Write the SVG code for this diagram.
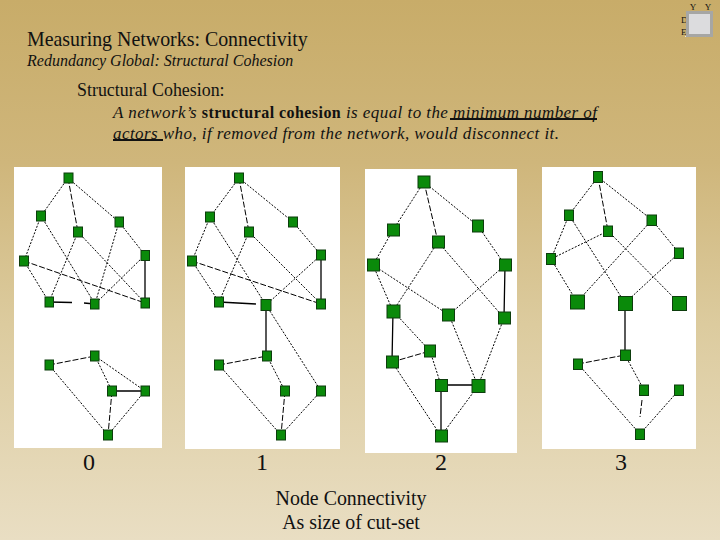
<svg xmlns="http://www.w3.org/2000/svg" width="720" height="540" viewBox="0 0 720 540">
<style>
text{font-family:"Liberation Serif","Times New Roman",serif;fill:#111}
.i{font-style:italic}
.b{font-weight:bold}
.panel{fill:#fff}
.n{fill:#0a8a0a;stroke:#0d3d0d;stroke-width:1}
#connectors path{fill:none;stroke:#000;stroke-width:1}
.dot{stroke-dasharray:2 1.500}
.dash{stroke-dasharray:6 2}
#connectors .solid{stroke-width:1.300}
</style>
<defs>
<linearGradient id="bg" x1="0" y1="0" x2="0" y2="1">
<stop offset="0" stop-color="#c8ac69"/>
<stop offset=".3" stop-color="#cfb67b"/>
<stop offset=".6" stop-color="#dccb9e"/>
<stop offset="1" stop-color="#e9dec3"/>
</linearGradient>
</defs>
<rect width="720" height="540" fill="url(#bg)"/>

<g id="corner-icon">
<text x="693" y="10" font-size="9" text-anchor="middle">Y</text>
<text x="708" y="10" font-size="9" text-anchor="middle">Y</text>
<text x="681" y="23" font-size="9">D</text>
<text x="681" y="35" font-size="9">E</text>
<rect x="685" y="36" width="28" height="1" fill="#eee8d8"/>
<rect x="687.500" y="12.500" width="24" height="23" fill="#dcdcde" stroke="#a6a6a4" stroke-width="3"/>
</g>

<g id="heading">
<text x="27" y="46" font-size="19.900">Measuring Networks: Connectivity</text>
<text x="27" y="66" font-size="16" class="i">Redundancy Global: Structural Cohesion</text>
<text x="77" y="96" font-size="17.900">Structural Cohesion:</text>
<text x="113" y="118" font-size="17" class="i" textLength="484">A network’s <tspan class="b" font-style="normal" font-size="16">structural cohesion</tspan> is equal to the minimum number of</text>
<text x="113" y="139" font-size="17" class="i" textLength="446">actors who, if removed from the network, would disconnect it.</text>
<path d="M450 119H597M113 140H163" stroke="#111" stroke-width="2" fill="none"/>
</g>

<g id="panels">
<rect class="panel" x="14" y="167" width="148" height="281"/>
<rect class="panel" x="185" y="167" width="155" height="282"/>
<rect class="panel" x="365" y="169" width="152" height="284"/>
<rect class="panel" x="542" y="167" width="154" height="282"/>
</g>

<g id="connectors">
<path class="dot" d="M68 178L41 216M68 178L119 222M41 216L24 261M41 216L95 304M78 232L49 302M78 232L145 303M119 222L95 304M119 222L145 255M24 261L49 302M145 255L95 304M95 356L112 391M95 356L145 391M145 391L108 435M49 365L108 435"/>
<path class="dash" d="M68 178L78 232M24 261L145 303M49 365L95 356M112 391L108 435"/>
<path class="solid" d="M145 255V303M49 302L72 302.500M84 303L95 304M112 391H145"/>

<path class="dot" d="M239 178L210 217M239 178L293 222M210 217L192 261M210 217L266 305M249 232L219 302M249 232L321 304M293 222L321 255M192 261L219 302M321 255L266 305M266 305L321 391M267 356L285 391M321 391L281 435M219 365L281 435"/>
<path class="dash" d="M239 178L249 232M192 261L321 304M219 365L267 356M285 391L281 435"/>
<path class="solid" d="M321 255V304M219 302L256 304M266 305V356"/>

<path class="dot" d="M424 182L393 230M424 182L478 226M393 230L373 265M438 242L393 311M438 242L504 318M478 226L505 265M373 265L393 311M373 265L449 315M505 265L449 315M393 311L430 351M430 351L441 385M449 315L478 386M504 318L478 386M392 362L441 436M478 386L441 436"/>
<path class="dash" d="M424 182L438 242M392 362L430 351"/>
<path class="solid" d="M505 265L504 318M393 311L392 362M441 385H478M441 385V436"/>

<path class="dot" d="M598 177L569 215M598 177L652 220M569 215L551 259M569 215L625 303M608 231L551 259M608 231L679 303M652 220L577 302M652 220L679 253M551 259L577 302M679 253L625 303M625 355L644 390M679 390L640 434M578 364L640 434"/>
<path class="dash" d="M598 177L608 231M578 364L625 355M642 400L640 417"/>
<path class="solid" d="M625 303V355"/>
</g>

<g id="graph-0">
<g id="g0-a"><rect class="n" x="64" y="173" width="9" height="10"/></g>
<g id="g0-b"><rect class="n" x="36.500" y="211" width="9" height="10"/></g>
<g id="g0-c"><rect class="n" x="73.500" y="227" width="9" height="10"/></g>
<g id="g0-d"><rect class="n" x="115" y="217" width="8.500" height="10"/></g>
<g id="g0-e"><rect class="n" x="19.500" y="256" width="9" height="10"/></g>
<g id="g0-f"><rect class="n" x="141" y="250.500" width="8.500" height="10"/></g>
<g id="g0-g"><rect class="n" x="45" y="297" width="8.500" height="10"/></g>
<g id="g0-h"><rect class="n" x="90.500" y="299" width="8.500" height="10"/></g>
<g id="g0-i"><rect class="n" x="141" y="298" width="8.500" height="10"/></g>
<g id="g0-j"><rect class="n" x="45" y="360" width="8.500" height="10"/></g>
<g id="g0-k"><rect class="n" x="90.500" y="351" width="8.500" height="10"/></g>
<g id="g0-l"><rect class="n" x="107.500" y="386" width="9" height="10"/></g>
<g id="g0-m"><rect class="n" x="141" y="386" width="8.500" height="10"/></g>
<g id="g0-n"><rect class="n" x="103.500" y="430" width="9" height="10"/></g>
</g>

<g id="graph-1">
<g id="g1-a"><rect class="n" x="234.500" y="173" width="9" height="10"/></g>
<g id="g1-b"><rect class="n" x="205.500" y="212" width="9" height="10"/></g>
<g id="g1-c"><rect class="n" x="244.500" y="227" width="9" height="10"/></g>
<g id="g1-d"><rect class="n" x="288.500" y="217" width="9" height="10"/></g>
<g id="g1-e"><rect class="n" x="187.500" y="256" width="9" height="10"/></g>
<g id="g1-f"><rect class="n" x="316.500" y="250" width="9" height="10"/></g>
<g id="g1-g"><rect class="n" x="214.500" y="297" width="9" height="10"/></g>
<g id="g1-h"><rect class="n" x="261" y="299.500" width="10" height="11"/></g>
<g id="g1-i"><rect class="n" x="316.500" y="299" width="9" height="10"/></g>
<g id="g1-j"><rect class="n" x="214.500" y="360" width="9" height="10"/></g>
<g id="g1-k"><rect class="n" x="262.500" y="351" width="9" height="10"/></g>
<g id="g1-l"><rect class="n" x="280.500" y="386" width="9" height="10"/></g>
<g id="g1-m"><rect class="n" x="316.500" y="386" width="9" height="10"/></g>
<g id="g1-n"><rect class="n" x="276.500" y="430" width="9" height="10"/></g>
</g>

<g id="graph-2">
<g id="g2-a"><rect class="n" x="418" y="176" width="12" height="12"/></g>
<g id="g2-b"><rect class="n" x="387.500" y="224" width="12" height="12"/></g>
<g id="g2-c"><rect class="n" x="432.500" y="236" width="12" height="12"/></g>
<g id="g2-d"><rect class="n" x="472.500" y="220" width="11" height="12"/></g>
<g id="g2-e"><rect class="n" x="367.500" y="259" width="12" height="12"/></g>
<g id="g2-f"><rect class="n" x="499.500" y="259" width="12" height="12"/></g>
<g id="g2-g"><rect class="n" x="387" y="305" width="13" height="13"/></g>
<g id="g2-h"><rect class="n" x="442.500" y="309" width="12" height="12"/></g>
<g id="g2-i"><rect class="n" x="498.500" y="312" width="12" height="12"/></g>
<g id="g2-j"><rect class="n" x="386.500" y="356" width="12" height="12"/></g>
<g id="g2-k"><rect class="n" x="424.500" y="345" width="11" height="12"/></g>
<g id="g2-l"><rect class="n" x="435.500" y="379.500" width="12" height="12"/></g>
<g id="g2-m"><rect class="n" x="472" y="379.500" width="13" height="13"/></g>
<g id="g2-n"><rect class="n" x="435.500" y="430" width="12" height="12"/></g>
</g>

<g id="graph-3">
<g id="g3-a"><rect class="n" x="593.500" y="171.500" width="9" height="11"/></g>
<g id="g3-b"><rect class="n" x="564.500" y="210" width="9" height="10.500"/></g>
<g id="g3-c"><rect class="n" x="603.500" y="226" width="9" height="10.500"/></g>
<g id="g3-d"><rect class="n" x="647" y="215" width="9.500" height="10.500"/></g>
<g id="g3-e"><rect class="n" x="546.500" y="253.500" width="9" height="11"/></g>
<g id="g3-f"><rect class="n" x="674.500" y="248" width="9" height="10.500"/></g>
<g id="g3-g"><rect class="n" x="570.500" y="295" width="14" height="14"/></g>
<g id="g3-h"><rect class="n" x="618.500" y="296.500" width="14" height="14"/></g>
<g id="g3-i"><rect class="n" x="672.500" y="296.500" width="14" height="14"/></g>
<g id="g3-j"><rect class="n" x="573.500" y="359" width="9" height="10.500"/></g>
<g id="g3-k"><rect class="n" x="620.500" y="350" width="10" height="10.500"/></g>
<g id="g3-l"><rect class="n" x="639.500" y="385" width="9" height="10.500"/></g>
<g id="g3-m"><rect class="n" x="674.500" y="385" width="9" height="10.500"/></g>
<g id="g3-n"><rect class="n" x="635.500" y="429" width="9" height="10.500"/></g>
</g>

<g id="captions" text-anchor="middle">
<text x="89" y="470" font-size="24">0</text>
<text x="262" y="470" font-size="24">1</text>
<text x="441" y="470" font-size="24">2</text>
<text x="621" y="470" font-size="24">3</text>
<text x="351" y="505" font-size="19.900">Node Connectivity</text>
<text x="351" y="529" font-size="19.900">As size of cut-set</text>
</g>
</svg>
